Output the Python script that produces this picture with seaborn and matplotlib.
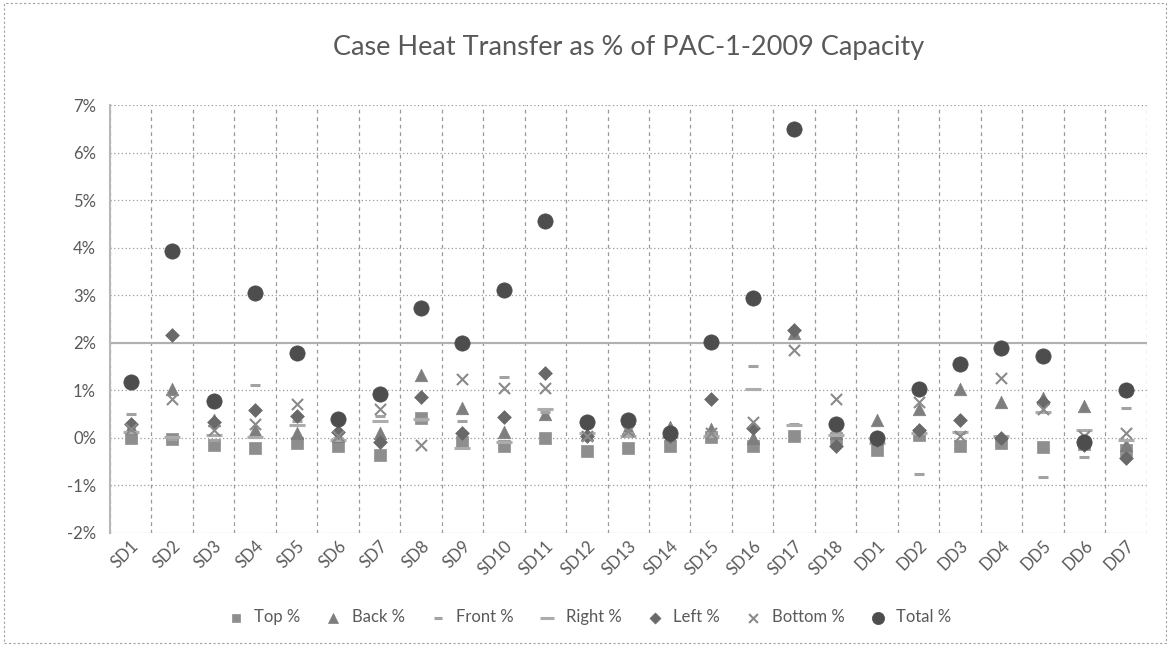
import numpy as np
import pandas as pd
import seaborn as sns
import matplotlib.pyplot as plt
from matplotlib.patches import Rectangle
from matplotlib.ticker import FuncFormatter, MultipleLocator

cases = ['SD1', 'SD2', 'SD3', 'SD4', 'SD5', 'SD6', 'SD7', 'SD8', 'SD9', 'SD10',
         'SD11', 'SD12', 'SD13', 'SD14', 'SD15', 'SD16', 'SD17', 'SD18',
         'DD1', 'DD2', 'DD3', 'DD4', 'DD5', 'DD6', 'DD7']

# values in percent of capacity
top_pct = [0.00, -0.03, -0.14, -0.21, -0.10, -0.18, -0.35, 0.42, -0.08, -0.18,
           0.00, -0.28, -0.21, -0.18, 0.02, -0.18, 0.05, 0.00,
           -0.25, 0.06, -0.18, -0.10, -0.19, -0.12, -0.25]
back_pct = [0.22, 1.02, 0.37, 0.16, 0.10, 0.05, 0.10, 1.33, 0.64, 0.13,
            0.51, 0.08, 0.20, 0.23, 0.18, 0.00, 2.20, 0.10,
            0.37, 0.61, 1.02, 0.75, 0.85, 0.68, -0.15]
front_pct = [0.50, -0.02, -0.04, 1.12, 0.35, 0.00, 0.47, 0.38, 0.36, 1.29,
             0.55, 0.10, 0.10, 0.00, 0.10, 1.52, 0.30, 0.12,
             -0.10, -0.76, 0.10, 0.05, -0.83, -0.40, 0.64]
right_pct = [0.12, 0.02, 0.06, 0.02, 0.27, -0.04, 0.36, 0.40, -0.21, -0.08,
             0.61, 0.10, 0.05, 0.02, 0.05, 1.02, 0.27, 0.06,
             -0.10, 0.10, 0.13, 0.05, 0.54, 0.16, -0.04]
left_pct = [0.30, 2.17, 0.34, 0.58, 0.47, 0.13, -0.08, 0.86, 0.10, 0.44,
            1.36, 0.03, 0.30, 0.05, 0.82, 0.20, 2.27, -0.18,
            -0.05, 0.16, 0.37, 0.00, 0.75, -0.15, -0.42]
bottom_pct = [0.18, 0.82, 0.16, 0.30, 0.71, 0.05, 0.61, -0.15, 1.23, 1.04,
              1.04, 0.05, 0.15, 0.05, 0.10, 0.34, 1.85, 0.82,
              -0.05, 0.75, 0.05, 1.26, 0.60, 0.05, 0.10]
total_pct = [1.17, 3.93, 0.78, 3.06, 1.78, 0.40, 0.93, 2.74, 1.99, 3.11,
             4.56, 0.34, 0.38, 0.10, 2.02, 2.94, 6.50, 0.30,
             0.00, 1.02, 1.56, 1.90, 1.72, -0.08, 1.00]

series = [
    ('Top %', top_pct, 's', 8, '#8e8e8e'),
    ('Back %', back_pct, '^', 9, '#7e7e7e'),
    ('Front %', front_pct, '_', 7, '#a2a2a2'),
    ('Right %', right_pct, '_', 12, '#acacac'),
    ('Left %', left_pct, 'D', 7, '#696969'),
    ('Bottom %', bottom_pct, 'x', 8, '#8a8a8a'),
    ('Total %', total_pct, 'o', 11, '#4d4d4d'),
]

sns.set_style('white')
plt.rcParams['font.family'] = ['Lato', 'DejaVu Sans']

fig = plt.figure(figsize=(11.7, 6.46), dpi=100)
ax = fig.add_axes([0.094, 0.175, 0.886, 0.662])

for name, vals, mk, ms, col in series:
    df = pd.DataFrame({'case': cases, 'value': vals})
    kw = dict(marker=mk, s=ms ** 2, color=col, label=name, ax=ax, zorder=3)
    if mk in ('x', '_'):
        kw['linewidth'] = 2.2 if mk == '_' else 1.5
    else:
        kw['edgecolor'] = col
        kw['linewidth'] = 0.5
    sns.scatterplot(data=df, x='case', y='value', **kw)

ax.set_xlim(-0.5, len(cases) - 0.5)
ax.set_ylim(-2, 7)
ax.yaxis.set_major_locator(MultipleLocator(1))
ax.yaxis.set_major_formatter(FuncFormatter(lambda v, p: f'{v:.0f}%'))
ax.set_xlabel('')
ax.set_ylabel('')

ax.set_xticks(np.arange(-0.5, len(cases), 1), minor=True)
ax.grid(True, which='major', axis='y', linestyle=(0, (1, 2)), color='#9a9a9a', linewidth=0.9)
ax.grid(True, which='minor', axis='x', linestyle=(0, (3, 3)), color='#9a9a9a', linewidth=0.9)
ax.axhline(2, color='#b0b0b0', linewidth=1.5, zorder=1)
ax.tick_params(axis='x', which='both', length=0)
ax.tick_params(axis='y', length=0, labelsize=12, labelcolor='#595959', pad=10)
plt.setp(ax.get_xticklabels(), rotation=45, ha='right', rotation_mode='anchor',
         fontsize=12, color='#595959')

for s in ['top', 'right', 'bottom']:
    ax.spines[s].set_visible(False)
ax.spines['left'].set_color('#b8b8b8')
ax.spines['left'].set_linewidth(1.5)

ax.set_title('Case Heat Transfer as % of PAC-1-2009 Capacity', fontsize=19.5,
             color='#595959', pad=36)

leg = ax.legend(loc='center', ncol=7, frameon=False, fontsize=12, handletextpad=0.1,
                columnspacing=1.0, markerscale=0.8)
for t in leg.get_texts():
    t.set_color('#595959')
leg.set_bbox_to_anchor((0.5, 0.045), transform=fig.transFigure)

fig.patches.append(Rectangle((0.003, 0.005), 0.994, 0.99, transform=fig.transFigure,
                             fill=False, edgecolor='#a0a0a0', linewidth=0.8,
                             linestyle=(0, (2, 2))))

fig.savefig('out.png', dpi=100)
